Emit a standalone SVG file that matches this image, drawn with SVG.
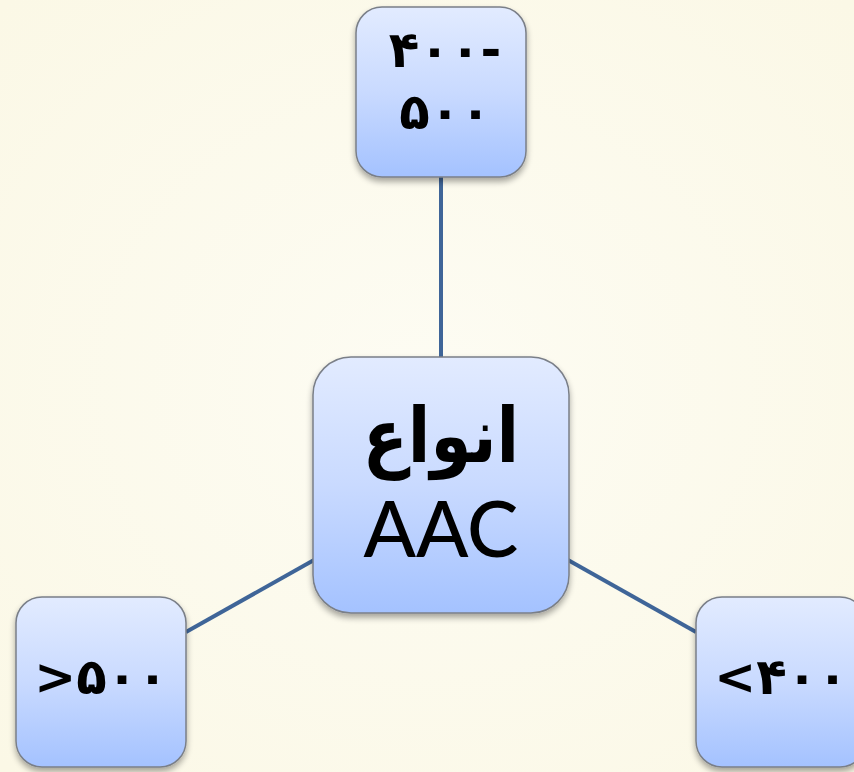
<svg xmlns="http://www.w3.org/2000/svg" width="854" height="772" viewBox="0 0 854 772">
<defs>
<radialGradient id="bg" cx="50%" cy="50%" r="70%">
<stop offset="0" stop-color="#FDFCF3"/>
<stop offset="1" stop-color="#FBF8E6"/>
</radialGradient>
<linearGradient id="nf" x1="0" y1="0" x2="0" y2="1">
<stop offset="0" stop-color="#E2EBFF"/>
<stop offset="0.5" stop-color="#C9DAFF"/>
<stop offset="1" stop-color="#A4C2FF"/>
</linearGradient>
<filter id="sh" x="-20%" y="-20%" width="140%" height="150%">
<feGaussianBlur in="SourceAlpha" stdDeviation="3"/>
<feOffset dy="4" result="b"/>
<feComponentTransfer><feFuncA type="linear" slope="0.35"/></feComponentTransfer>
<feMerge><feMergeNode/><feMergeNode in="SourceGraphic"/></feMerge>
</filter>
</defs>
<style>
.box{fill:url(#nf);stroke:#7A7F88;stroke-width:1.5;filter:url(#sh)}
.conn{stroke:#3F6598;stroke-width:4;fill:none}
.num{font-family:"DejaVu Sans",sans-serif;font-weight:bold;font-size:50px;fill:#000;text-anchor:middle;letter-spacing:5px}
</style>
<rect width="854" height="772" fill="url(#bg)"/>
<g id="connectors">
<line class="conn" x1="441" y1="177" x2="441" y2="358"/>
<line class="conn" x1="186" y1="632" x2="314" y2="560"/>
<line class="conn" x1="568" y1="560" x2="696" y2="632"/>
</g>
<g id="node-center">
<rect class="box" x="313" y="357" width="256" height="256" rx="38"/>
<text transform="translate(441 462) scale(1 1.15)" font-family="DejaVu Sans, sans-serif" font-weight="bold" font-size="66" text-anchor="middle" direction="rtl">انواع</text>
<text x="441" y="557" font-family="Lato, sans-serif" font-weight="500" font-size="77" text-anchor="middle">AAC</text>
</g>
<g id="node-top">
<rect class="box" x="356" y="7" width="170" height="170" rx="26"/>
<text class="num" x="445" y="67" direction="ltr">۴۰۰-</text>
<text class="num" x="445" y="129" direction="ltr">۵۰۰</text>
</g>
<g id="node-left">
<rect class="box" x="16" y="597" width="170" height="170" rx="26"/>
<text class="num" x="101" y="694" direction="ltr">&gt;۵۰۰</text>
</g>
<g id="node-right">
<rect class="box" x="696" y="597" width="170" height="170" rx="26"/>
<text class="num" x="781" y="694" direction="ltr">&lt;۴۰۰</text>
</g>
</svg>
